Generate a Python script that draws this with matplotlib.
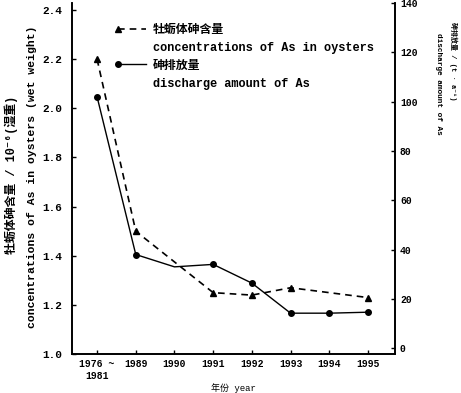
import numpy as np
import matplotlib
matplotlib.use("Agg")
import matplotlib.pyplot as plt
from matplotlib.lines import Line2D
from matplotlib.legend_handler import HandlerLine2D

plt.rcParams["font.family"] = ["Liberation Mono", "Noto Sans CJK SC", "DejaVu Sans"]
plt.rcParams["font.weight"] = "bold"

# data
years = ["1976 ~\n1981", "1989", "1990", "1991", "1992", "1993", "1994", "1995"]
oyster_as = [2.20, 1.50, np.nan, 1.25, 1.24, 1.27, np.nan, 1.23]      # 10^-6, wet weight
discharge_as = [102, 38, 33, 34, 26.4, 14.2, 14.2, 14.6]              # t/a
discharge_marked = [True, True, False, True, True, True, True, True]


class FirstMarker(HandlerLine2D):
    # legend sample with the marker only at the left end
    def create_artists(self, *args, **kwargs):
        arts = super().create_artists(*args, **kwargs)
        for a in arts:
            a.set_markevery([0])
        return arts


x = np.arange(len(years))
oy = np.array(oyster_as)
ok = ~np.isnan(oy)

fig = plt.figure(figsize=(4.61, 3.93), dpi=100)
ax = fig.add_axes([0.156, 0.099, 0.701, 0.893])
ax2 = ax.twinx()

# oysters (left axis), dashed
ax.plot(x[ok], oy[ok], ls=(0, (4, 3)), color="black", lw=1.2,
        marker="^", ms=4, mfc="black", mec="black")

# discharge (right axis), solid
ax2.plot(x, discharge_as, ls="-", color="black", lw=1.0)
mk = np.array(discharge_marked)
ax2.plot(x[mk], np.array(discharge_as)[mk], ls="none", marker="o", ms=4, color="black")

ax.set_xlim(-0.65, 7.7)
ax.set_ylim(1.0, 2.428)
ax2.set_ylim(-2.4, 140)

ax.set_xticks(x)
ax.set_xticklabels(years, fontsize=7)
ax.set_yticks([1.0, 1.2, 1.4, 1.6, 1.8, 2.0, 2.2, 2.4])
ax.set_yticklabels(["1.0", "1.2", "1.4", "1.6", "1.8", "2.0", "2.2", "2.4"], fontsize=8)
ax2.set_yticks([0, 20, 40, 60, 80, 100, 120, 140])
ax2.tick_params(axis="y", labelsize=7)

for a in (ax, ax2):
    a.spines["top"].set_visible(False)
    a.tick_params(direction="in", length=3, width=1.0)
    for s in a.spines.values():
        s.set_linewidth(1.2)
ax.tick_params(axis="y", pad=7)

ax.set_xlabel("年份 year", fontsize=6.5, labelpad=2)

# left axis label: two separate lines
fig.text(11 / 461, 1 - 175 / 393, "牡蛎体砷含量 / 10⁻⁶(湿重)", rotation=90,
         ha="center", va="center", fontsize=8.6)
fig.text(32 / 461, 1 - 177 / 393, "concentrations of As in oysters (wet weight)",
         rotation=90, ha="center", va="center", fontsize=8.2)

# right axis label sits high, two separate lines
fig.text(453 / 461, 1 - 22 / 393, "砷排放量 / (t · a⁻¹)", rotation=270,
         ha="center", va="top", fontsize=5)
fig.text(438 / 461, 1 - 33 / 393, "discharge amount of As", rotation=270,
         ha="center", va="top", fontsize=5.6)

h_oy = Line2D([], [], ls=(0, (4, 3)), color="black", lw=1.2, marker="^", ms=4)
h_dc = Line2D([], [], ls="-", color="black", lw=1.0, marker="o", ms=4)
handles = [h_oy, Line2D([], [], ls="none"), h_dc, Line2D([], [], ls="none")]
labels = ["牡蛎体砷含量", "concentrations of As in oysters",
          "砷排放量", "discharge amount of As"]
ax.legend(handles, labels, loc="upper left", bbox_to_anchor=(0.116, 0.955),
          frameon=False, fontsize=8.6, handlelength=3.0, handletextpad=0.25,
          labelspacing=0.5, borderaxespad=0,
          handler_map={Line2D: FirstMarker(numpoints=2)})

fig.savefig("out.png", dpi=100)
